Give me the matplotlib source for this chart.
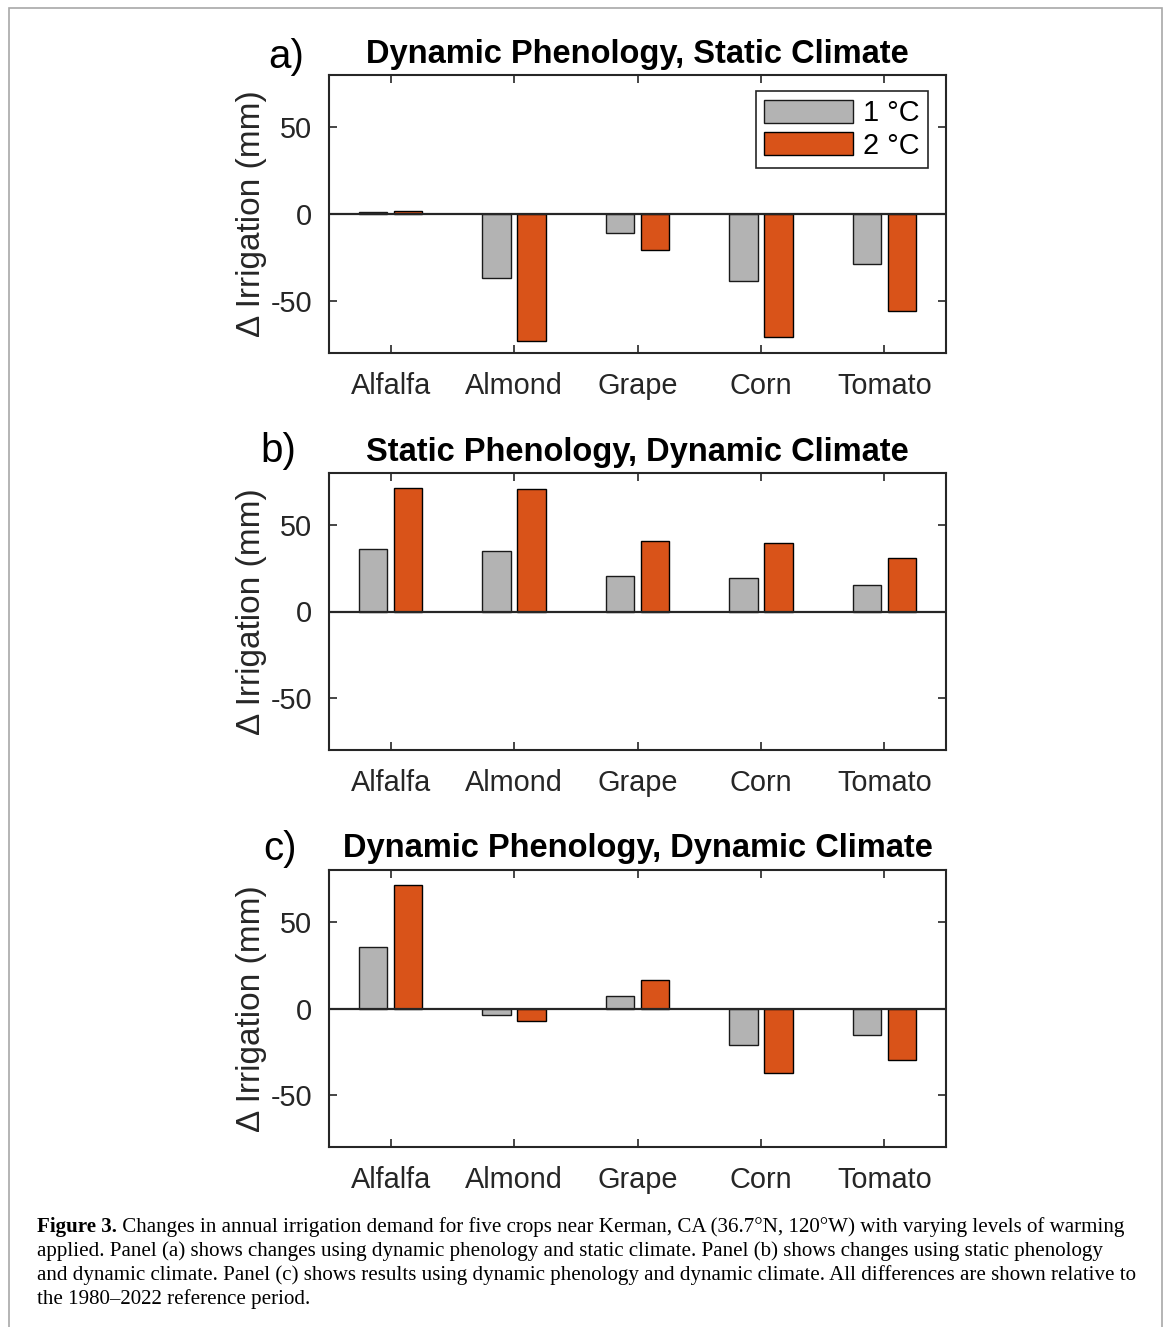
import matplotlib
matplotlib.use("Agg")
import matplotlib.pyplot as plt
from matplotlib.patches import Rectangle
import numpy as np

plt.rcParams['font.family'] = ['Liberation Sans', 'DejaVu Sans']
plt.rcParams['axes.unicode_minus'] = False

crops = ['Alfalfa', 'Almond', 'Grape', 'Corn', 'Tomato']
warming = ['1 \u00b0C', '2 \u00b0C']

# change in irrigation (mm) for +1 C and +2 C
dyn_pheno_static_clim_1c = [1, -37, -11, -38.5, -29]
dyn_pheno_static_clim_2c = [2, -73, -21, -71, -56]
static_pheno_dyn_clim_1c = [36, 35, 20.5, 19.5, 15.5]
static_pheno_dyn_clim_2c = [71.5, 70.5, 41, 39.5, 31]
dyn_pheno_dyn_clim_1c = [35.5, -3.5, 7.5, -21, -15.5]
dyn_pheno_dyn_clim_2c = [71.5, -7.5, 16.5, -37, -30]

titles = ['Dynamic Phenology, Static Climate',
          'Static Phenology, Dynamic Climate',
          'Dynamic Phenology, Dynamic Climate']
panel_labels = ['a)', 'b)', 'c)']
yticks = [-50, 0, 50]

caption_bold = 'Figure 3.'
caption_lines = [
    ' Changes in annual irrigation demand for five crops near Kerman, CA (36.7\u00b0N, 120\u00b0W) with varying levels of warming',
    'applied. Panel (a) shows changes using dynamic phenology and static climate. Panel (b) shows changes using static phenology',
    'and dynamic climate. Panel (c) shows results using dynamic phenology and dynamic climate. All differences are shown relative to',
    'the 1980\u20132022 reference period.',
]

gray = '#b3b3b3'
orange = '#d95319'
dark = '#262626'

W, H = 1168, 1327
fig = plt.figure(figsize=(W / 100, H / 100), dpi=100)

# thin gray frame around the whole figure
fig.patches.append(Rectangle((9 / W, -0.05), (1162 - 9) / W, 1.05 - 8 / H,
                             transform=fig.transFigure, fill=False,
                             edgecolor='#a8a8a8', lw=1.2))

boxes = [(75, 353), (473, 750), (870, 1147)]
label_pos = [(286, 57), (278, 451), (280, 849)]
data = [(dyn_pheno_static_clim_1c, dyn_pheno_static_clim_2c),
        (static_pheno_dyn_clim_1c, static_pheno_dyn_clim_2c),
        (dyn_pheno_dyn_clim_1c, dyn_pheno_dyn_clim_2c)]

x = np.arange(1, len(crops) + 1)
left, right = 329, 946
for i, ((top, bot), (v1, v2)) in enumerate(zip(boxes, data)):
    ax = fig.add_axes([left / W, 1 - bot / H, (right - left) / W, (bot - top) / H])
    ax.bar(x - 0.142, v1, width=0.23, color=gray, edgecolor='#1a1a1a', lw=1.0, label=warming[0])
    ax.bar(x + 0.142, v2, width=0.23, color=orange, edgecolor='black', lw=1.0, label=warming[1])
    ax.axhline(0, color=dark, lw=1.6, zorder=3)
    ax.set_xlim(0.5, 5.5)
    ax.set_ylim(-80, 80)
    ax.set_xticks(x)
    ax.set_xticklabels(crops)
    ax.set_yticks(yticks)
    ax.tick_params(direction='in', length=6, width=1.2, colors=dark, labelsize=20.8,
                   top=True, right=True)
    ax.tick_params(axis='y', pad=12)
    ax.tick_params(axis='x', pad=14)
    for s in ax.spines.values():
        s.set_linewidth(1.5)
        s.set_color(dark)
    ax.set_ylabel('\u0394 Irrigation (mm)', fontsize=24, color=dark, labelpad=3)
    ax.set_title(titles[i], fontsize=23.5, fontweight='bold', pad=9)
    fig.text(label_pos[i][0] / W, 1 - label_pos[i][1] / H, panel_labels[i],
             fontsize=29, ha='center', va='center')
    if i == 0:
        leg = ax.legend(loc='upper right', bbox_to_anchor=(0.971, 0.942), borderaxespad=0,
                        fontsize=20.8, handlelength=3.1, handleheight=0.85,
                        handletextpad=0.35, borderpad=0.28, labelspacing=0.15,
                        fancybox=False, framealpha=1)
        leg.get_frame().set_edgecolor(dark)
        leg.get_frame().set_linewidth(1.2)

# caption, serif
cap_x = 37 / W
base = [1232, 1256, 1280, 1304]
cap_size = 15.1
fig.canvas.draw()
r = fig.canvas.get_renderer()
tb = fig.text(cap_x, 1 - base[0] / H, caption_bold, family='Liberation Serif',
              fontweight='bold', fontsize=cap_size, va='baseline')
bw = tb.get_window_extent(renderer=r).width
fig.text(cap_x + bw / W, 1 - base[0] / H, caption_lines[0], family='Liberation Serif',
         fontsize=cap_size, va='baseline')
for j in range(1, 4):
    fig.text(cap_x, 1 - base[j] / H, caption_lines[j], family='Liberation Serif',
             fontsize=cap_size, va='baseline')

fig.savefig('out.png', dpi=100)
